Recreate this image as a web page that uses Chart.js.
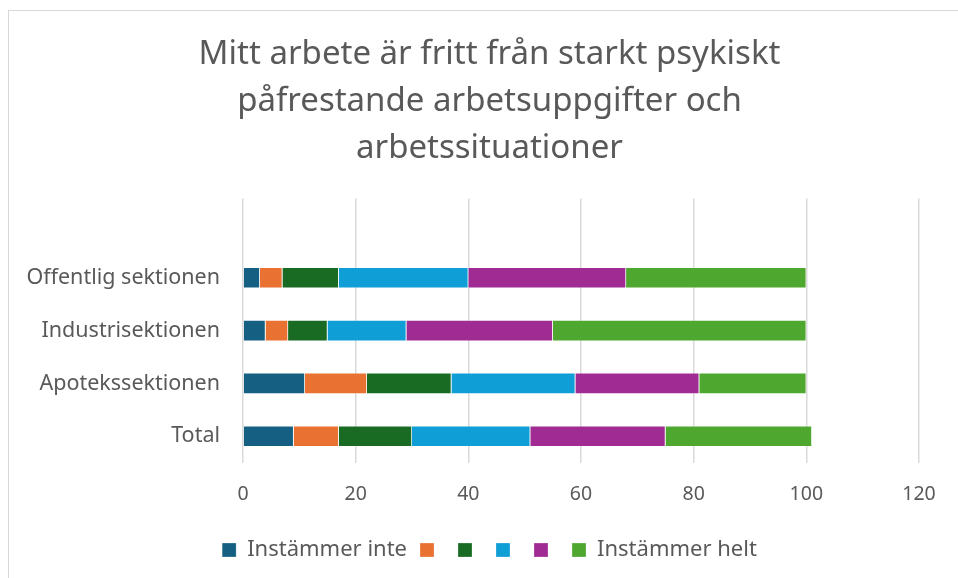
<!DOCTYPE html>
<html>
<head>
<meta charset="utf-8">
<script src="https://cdn.jsdelivr.net/npm/chart.js@4"></script>
<style>
  html, body { margin: 0; padding: 0; background: #ffffff; }
  #wrap { position: relative; width: 958px; height: 578px; overflow: hidden; }
  #frame { position: absolute; left: 8px; top: 10px; width: 980px; height: 600px;
           border-left: 1.5px solid #d9d9d9; border-top: 1.5px solid #d9d9d9; box-sizing: border-box; }
  canvas { position: absolute; left: 0; top: 0; }
</style>
</head>
<body>
<div id="wrap">
  <div id="frame"></div>
  <canvas id="chart" width="958" height="578"></canvas>
</div>
<script>
// Sections (the first, blank row leaves an empty band above the bars)
const categories = ['', 'Offentlig sektionen', 'Industrisektionen', 'Apotekssektionen', 'Total'];

// Answer scale, from "disagree" to "fully agree"
const seriesNames = ['Instämmer inte', '', '', '', '', 'Instämmer helt'];
const seriesColors = ['#156082', '#E97132', '#196B24', '#0F9ED5', '#A02B93', '#4EA72E'];

// Share per answer step, per section
const step1 = [null, 3, 4, 11, 9];
const step2 = [null, 4, 4, 11, 8];
const step3 = [null, 10, 7, 15, 13];
const step4 = [null, 23, 14, 22, 21];
const step5 = [null, 28, 26, 22, 24];
const step6 = [null, 32, 45, 19, 26];

const xTicks = [0, 20, 40, 60, 80, 100, 120];

const seriesValues = [step1, step2, step3, step4, step5, step6];

Chart.defaults.font.family = '"Noto Sans", sans-serif';
Chart.defaults.color = '#595959';

// Centre title and legend on the whole frame rather than on the padded layout box
const centreShift = {
  id: 'centreShift',
  afterLayout(chart) {
    const dx = 30;
    [chart.titleBlock, chart.legend].forEach(b => {
      if (b) { b.left += dx; b.right += dx; }
    });
  }
};

new Chart(document.getElementById('chart'), {
  type: 'bar',
  data: {
    labels: categories,
    datasets: seriesValues.map((vals, i) => ({
      label: seriesNames[i],
      data: vals,
      backgroundColor: seriesColors[i],
      borderColor: 'rgba(255,255,255,0.35)',
      borderWidth: 0.75,
      barPercentage: 0.4,
      categoryPercentage: 1.0
    }))
  },
  plugins: [centreShift],
  options: {
    indexAxis: 'y',
    responsive: false,
    animation: false,
    layout: { padding: { left: 0, right: 39, top: 0, bottom: 7 } },
    scales: {
      x: {
        stacked: true,
        min: xTicks[0],
        max: xTicks[xTicks.length - 1],
        afterBuildTicks: (s) => { s.ticks = xTicks.map(v => ({ value: v })); },
        grid: { color: '#d9d9d9', lineWidth: 1.5, drawTicks: false },
        border: { display: false },
        ticks: { padding: 20, font: { size: 19.5 }, color: '#595959' }
      },
      y: {
        stacked: true,
        afterFit: (s) => { s.width = 243; },
        grid: { display: false, drawTicks: false },
        border: { display: false },
        ticks: { padding: 23, font: { size: 21.5 }, color: '#595959' }
      }
    },
    plugins: {
      title: {
        display: true,
        text: ['Mitt arbete är fritt från starkt psykiskt', 'påfrestande arbetsuppgifter och', 'arbetssituationer'],
        font: { size: 33, weight: 'normal', lineHeight: 1.42 },
        color: '#595959',
        padding: { top: 31, bottom: 27 }
      },
      legend: {
        position: 'bottom',
        labels: {
          boxWidth: 14,
          boxHeight: 14,
          padding: 13,
          font: { size: 22 },
          color: '#595959'
        }
      },
      tooltip: { enabled: false }
    }
  }
});
</script>
</body>
</html>
